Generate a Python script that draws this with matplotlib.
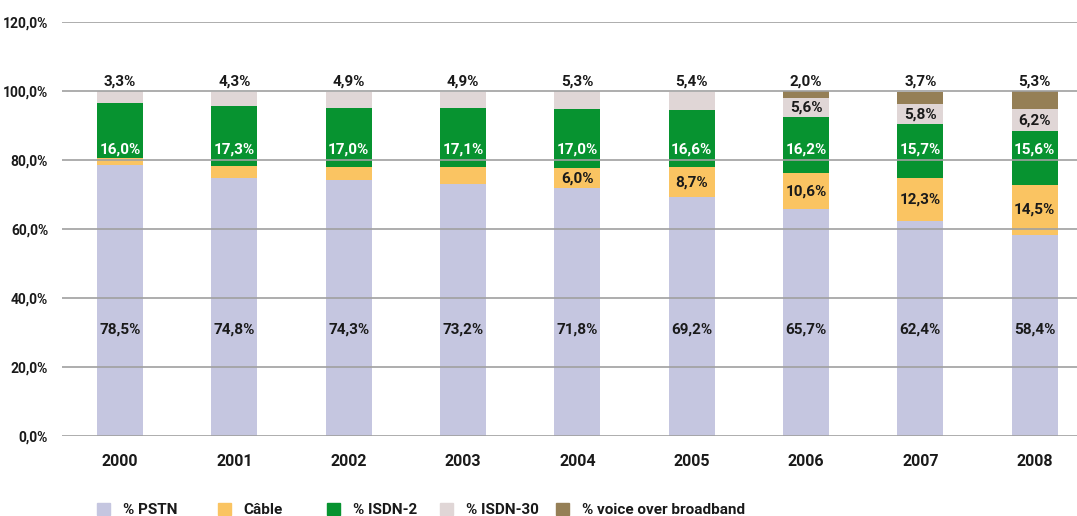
import matplotlib
matplotlib.use("Agg")
import matplotlib.pyplot as plt
import matplotlib.patches as mpatches
import numpy as np

plt.rcParams['font.family'] = ['Roboto', 'DejaVu Sans']
plt.rcParams['font.weight'] = 'bold'

years = ["2000", "2001", "2002", "2003", "2004", "2005", "2006", "2007", "2008"]
pstn = [78.5, 74.8, 74.3, 73.2, 71.8, 69.2, 65.7, 62.4, 58.4]
cable = [2.2, 3.5, 3.7, 4.7, 6.0, 8.7, 10.6, 12.3, 14.5]
isdn2 = [16.0, 17.3, 17.0, 17.1, 17.0, 16.6, 16.2, 15.7, 15.6]
isdn30 = [3.3, 4.3, 4.9, 4.9, 5.3, 5.4, 5.6, 5.8, 6.2]
vob = [0, 0, 0, 0, 0, 0, 2.0, 3.7, 5.3]

series = ["% PSTN", "Câble", "% ISDN-2", "% ISDN-30", "% voice over broadband"]
colors = ["#c5c6e0", "#fac462", "#079330", "#e0d6d6", "#957f56"]

def fmt(v):
    return f"{v:.1f}%".replace(".", ",")

fig = plt.figure(figsize=(10.77, 5.16), dpi=100)
ax = fig.add_axes([0.0576, 0.155, 0.9424, 0.802])

x = np.arange(len(years))
w = 0.40
bottom = np.zeros(len(years))
for vals, c, name in zip([pstn, cable, isdn2, isdn30, vob], colors, series):
    ax.bar(x, vals, w, bottom=bottom, color=c, label=name, zorder=1)
    bottom += np.array(vals)

fs = 11
dark = '#1a1a1a'
for i in range(len(years)):
    ax.text(x[i], 30.8, fmt(pstn[i]), ha='center', va='center', fontsize=fs, color=dark, zorder=4)
    ax.text(x[i], 83.2, fmt(isdn2[i]), ha='center', va='center', fontsize=fs, color='white', zorder=4)
    if cable[i] >= 5:
        ax.text(x[i], pstn[i] + cable[i] / 2, fmt(cable[i]), ha='center', va='center',
                fontsize=fs, color=dark, zorder=4)
    if vob[i] > 0:
        top30 = pstn[i] + cable[i] + isdn2[i] + isdn30[i] / 2
        ax.text(x[i], top30, fmt(isdn30[i]), ha='center', va='center', fontsize=fs, color=dark, zorder=4)
        ax.text(x[i], 102.8, fmt(vob[i]), ha='center', va='center', fontsize=fs, color=dark, zorder=4)
    else:
        ax.text(x[i], 102.8, fmt(isdn30[i]), ha='center', va='center', fontsize=fs, color=dark, zorder=4)

ax.set_ylim(0, 120)
ax.set_xlim(-0.507, 8.37)
ax.set_yticks(np.arange(0, 121, 20))
ax.set_yticklabels([fmt(v) for v in np.arange(0, 121, 20)], fontsize=10, color=dark)
ax.set_xticks(x)
ax.set_xticklabels(years, fontsize=11.5, color=dark)
ax.tick_params(axis='both', length=0)
ax.tick_params(axis='x', pad=13)
ax.tick_params(axis='y', pad=10)
ax.set_axisbelow(False)
ax.yaxis.grid(True, color='#a0a0a0', linewidth=1.2, zorder=3)
for s in ax.spines.values():
    s.set_visible(False)

# legend entries placed one by one, like the original layout
leg_x = [96, 217, 326, 439, 555]
for lx, c, name in zip(leg_x, colors, series):
    h = mpatches.Patch(color=c, label=name)
    lg = fig.legend(handles=[h], loc='center left', bbox_to_anchor=(lx / 1077 - 0.0122, 0.0116),
                    frameon=False, fontsize=11, handlelength=0.9, handleheight=0.9,
                    handletextpad=0.8)
    for t in lg.get_texts():
        t.set_color(dark)

fig.savefig("out.png", dpi=100)
